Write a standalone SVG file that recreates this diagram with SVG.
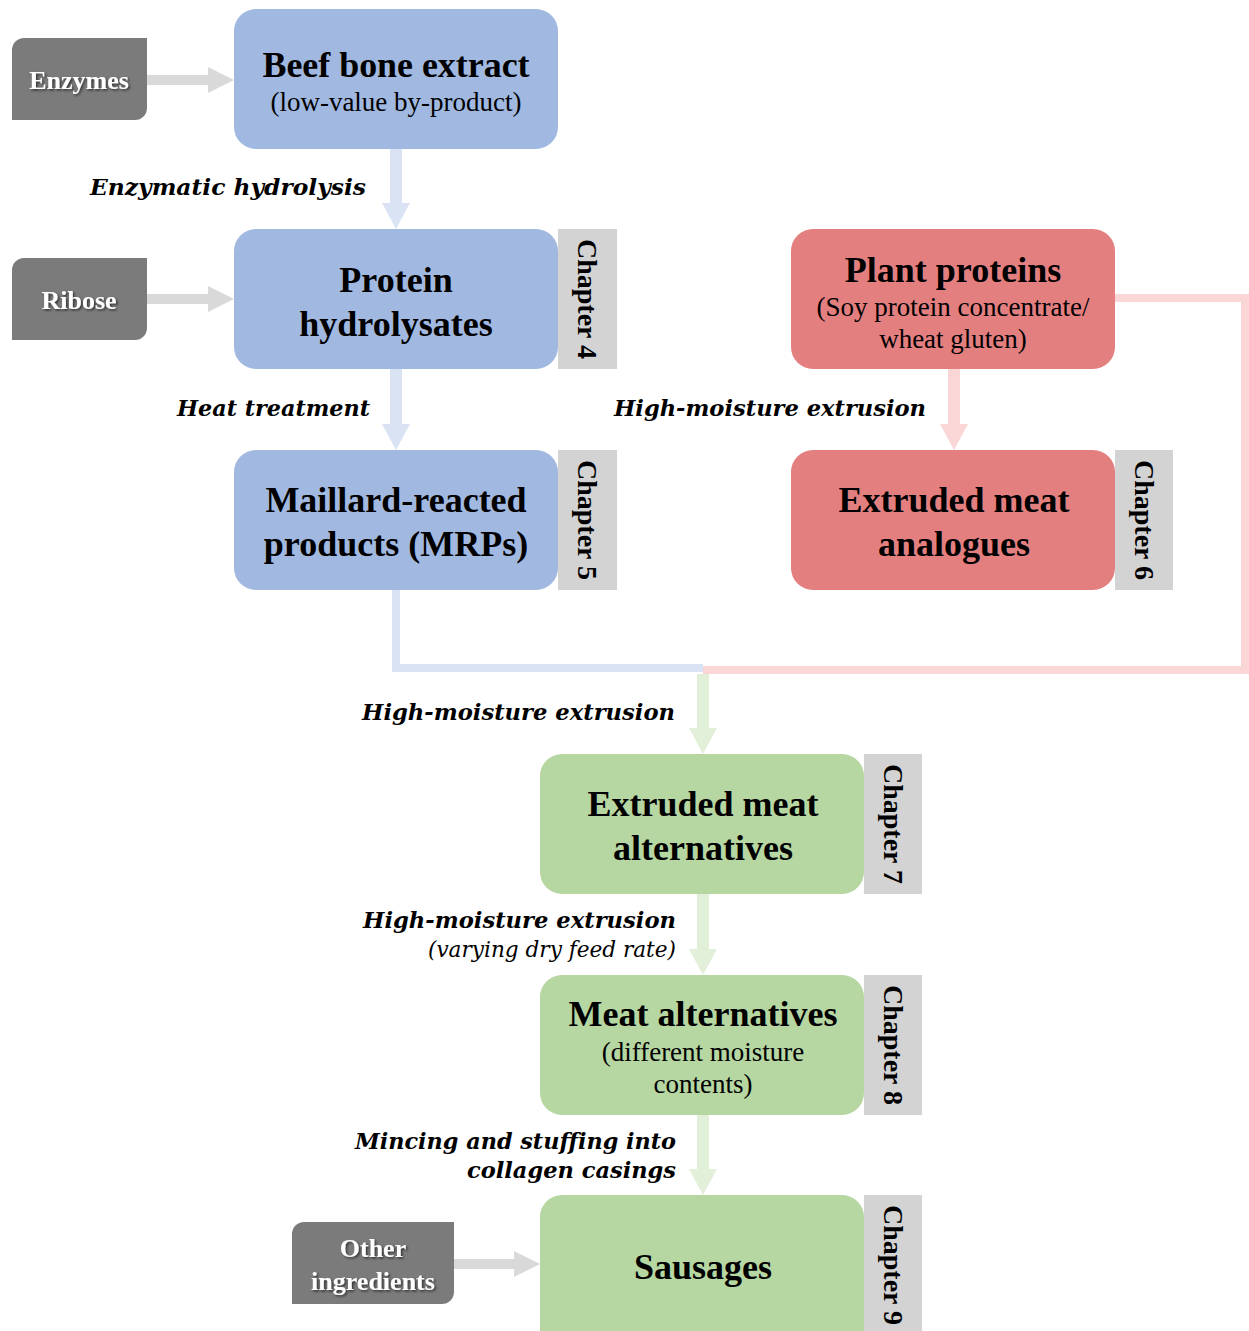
<svg xmlns="http://www.w3.org/2000/svg" width="1249" height="1331" viewBox="0 0 1249 1331">
<defs>
<filter id="sh" x="-10%" y="-10%" width="130%" height="130%"><feDropShadow dx="1.5" dy="1.5" stdDeviation="0.8" flood-color="#000" flood-opacity="0.6"/></filter>
</defs>
<style>
.blue{fill:#a1b9e1}
.red{fill:#e47f80}
.green{fill:#b6d6a2}
.gray{fill:#7b7b7b}
.tab{fill:#d3d3d3}
.t1{font-family:"Liberation Serif",serif;font-weight:bold;font-size:36px;fill:#000;text-anchor:middle}
.t2{font-family:"Liberation Serif",serif;font-size:27px;fill:#000;text-anchor:middle}
.ch{font-family:"Liberation Serif",serif;font-weight:bold;font-size:28px;fill:#000;text-anchor:middle}
.gt{font-family:"Liberation Serif",serif;font-weight:bold;font-size:26px;fill:#fff;text-anchor:middle}
.lb{font-family:"DejaVu Serif",serif;font-weight:bold;font-style:italic;font-size:22px;fill:#000;text-anchor:end}
.li{font-family:"DejaVu Serif",serif;font-style:italic;font-size:22px;fill:#000;text-anchor:end}
.cb{fill:#dae3f3}
.cr{fill:#fbd6d6}
.cg{fill:#e2efd9}
.ca{fill:#d9d9d9}
</style>

<g id="connectors">
  <polygon class="ca" points="147,75 208,75 208,67 234,80 208,93 208,85 147,85"/>
  <polygon class="ca" points="147,294 208,294 208,286 234,299 208,312 208,304 147,304"/>
  <polygon class="ca" points="454,1259 514,1259 514,1251 540,1264 514,1277 514,1269 454,1269"/>
  <polygon class="cb" points="390,149 402,149 402,203 410,203 396,229 382,203 390,203"/>
  <polygon class="cb" points="390,369 402,369 402,424 410,424 396,450 382,424 390,424"/>
  <polygon class="cr" points="948,369 960,369 960,424 968,424 954,450 940,424 948,424"/>
  <polygon class="cb" points="392,590 400,590 400,664 703,664 703,672 392,672"/>
  <polygon class="cr" points="1115,294 1249,294 1249,674 703,674 703,666 1241,666 1241,302 1115,302"/>
  <polygon class="cg" points="697,674 709,674 709,728 717,728 703,754 689,728 697,728"/>
  <polygon class="cg" points="697,894 709,894 709,949 717,949 703,975 689,949 697,949"/>
  <polygon class="cg" points="697,1115 709,1115 709,1169 717,1169 703,1195 689,1169 697,1169"/>
</g>

<g id="enzymes">
  <path class="gray" d="M24,38 H147 V108 A12,12 0 0 1 135,120 H12 V50 A12,12 0 0 1 24,38 Z"/>
  <text class="gt" x="79" y="89" filter="url(#sh)">Enzymes</text>
</g>
<g id="ribose">
  <path class="gray" d="M24,258 H147 V328 A12,12 0 0 1 135,340 H12 V270 A12,12 0 0 1 24,258 Z"/>
  <text class="gt" x="79" y="309" filter="url(#sh)">Ribose</text>
</g>
<g id="other-ingredients">
  <path class="gray" d="M304,1222 H454 V1292 A12,12 0 0 1 442,1304 H292 V1234 A12,12 0 0 1 304,1222 Z"/>
  <text class="gt" x="373" y="1257" filter="url(#sh)">Other</text>
  <text class="gt" x="373" y="1290" filter="url(#sh)">ingredients</text>
</g>

<g id="beef-bone-extract">
  <rect class="blue" x="234" y="9" width="324" height="140" rx="22"/>
  <text class="t1" x="396" y="77" textLength="267" lengthAdjust="spacingAndGlyphs">Beef bone extract</text>
  <text class="t2" x="396" y="111">(low-value by-product)</text>
</g>

<g id="protein-hydrolysates">
  <rect class="blue" x="234" y="229" width="324" height="140" rx="22"/>
  <text class="t1" x="396" y="292">Protein</text>
  <text class="t1" x="396" y="336">hydrolysates</text>
  <rect class="tab" x="558" y="229" width="59" height="140"/>
  <text class="ch" transform="translate(587,299) rotate(90)" dy="9">Chapter 4</text>
</g>

<g id="maillard">
  <rect class="blue" x="234" y="450" width="324" height="140" rx="22"/>
  <text class="t1" x="396" y="512">Maillard-reacted</text>
  <text class="t1" x="396" y="556">products (MRPs)</text>
  <rect class="tab" x="558" y="450" width="59" height="140"/>
  <text class="ch" transform="translate(587,520) rotate(90)" dy="9">Chapter 5</text>
</g>

<g id="plant-proteins">
  <rect class="red" x="791" y="229" width="324" height="140" rx="22"/>
  <text class="t1" x="953" y="282">Plant proteins</text>
  <text class="t2" x="953" y="316">(Soy protein concentrate/</text>
  <text class="t2" x="953" y="348">wheat gluten)</text>
</g>

<g id="extruded-meat-analogues">
  <rect class="red" x="791" y="450" width="324" height="140" rx="22"/>
  <text class="t1" x="954" y="512">Extruded meat</text>
  <text class="t1" x="954" y="556">analogues</text>
  <rect class="tab" x="1115" y="450" width="58" height="140"/>
  <text class="ch" transform="translate(1144,520) rotate(90)" dy="9">Chapter 6</text>
</g>

<g id="extruded-meat-alternatives">
  <rect class="green" x="540" y="754" width="324" height="140" rx="22"/>
  <text class="t1" x="703" y="816">Extruded meat</text>
  <text class="t1" x="703" y="860">alternatives</text>
  <rect class="tab" x="864" y="754" width="58" height="140"/>
  <text class="ch" transform="translate(893,824) rotate(90)" dy="9">Chapter 7</text>
</g>

<g id="meat-alternatives">
  <rect class="green" x="540" y="975" width="324" height="140" rx="22"/>
  <text class="t1" x="703" y="1026">Meat alternatives</text>
  <text class="t2" x="703" y="1061">(different moisture</text>
  <text class="t2" x="703" y="1093">contents)</text>
  <rect class="tab" x="864" y="975" width="58" height="140"/>
  <text class="ch" transform="translate(893,1045) rotate(90)" dy="9">Chapter 8</text>
</g>

<g id="sausages">
  <rect class="green" x="540" y="1195" width="324" height="160" rx="22"/>
  <text class="t1" x="703" y="1279">Sausages</text>
  <rect class="tab" x="864" y="1195" width="58" height="136"/>
  <text class="ch" transform="translate(893,1265) rotate(90)" dy="9">Chapter 9</text>
</g>

<g id="labels">
  <text class="lb" x="366" y="195" textLength="276" lengthAdjust="spacingAndGlyphs">Enzymatic hydrolysis</text>
  <text class="lb" x="370" y="416" textLength="193" lengthAdjust="spacingAndGlyphs">Heat treatment</text>
  <text class="lb" x="926" y="416" textLength="312" lengthAdjust="spacingAndGlyphs">High-moisture extrusion</text>
  <text class="lb" x="675" y="720" textLength="313" lengthAdjust="spacingAndGlyphs">High-moisture extrusion</text>
  <text class="lb" x="676" y="928" textLength="313" lengthAdjust="spacingAndGlyphs">High-moisture extrusion</text>
  <text class="li" x="676" y="957" textLength="248" lengthAdjust="spacingAndGlyphs">(varying dry feed rate)</text>
  <text class="lb" x="676" y="1149" textLength="321" lengthAdjust="spacingAndGlyphs">Mincing and stuffing into</text>
  <text class="lb" x="676" y="1178" textLength="209" lengthAdjust="spacingAndGlyphs">collagen casings</text>
</g>
</svg>
